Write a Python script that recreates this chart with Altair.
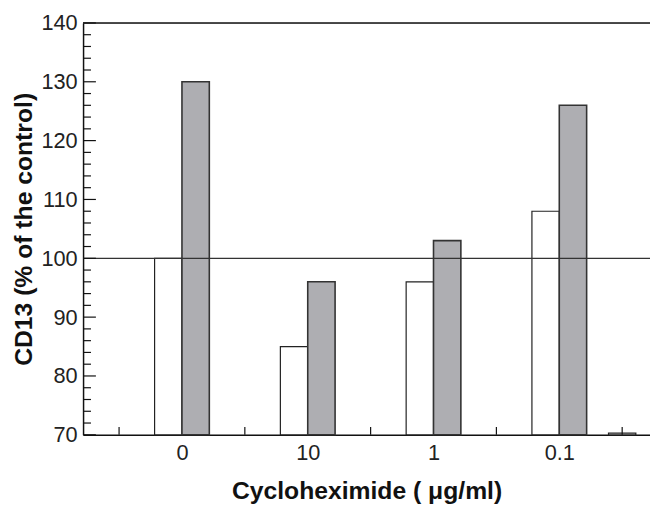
import json
import altair as alt
import pandas as pd

# ---- data ----
categories = ["0", "10", "1", "0.1"]
positions = [1, 2, 3, 4]
white_values = [100, 85, 96, 108]
gray_values = [130, 96, 103, 126]
stray_positions = [4.5]
stray_values = [70.3]

y_major = [70, 80, 90, 100, 110, 120, 130, 140]
y_minor = [v for v in range(72, 140, 2) if v % 10 != 0]
x_ticks = [0.5, 1.5, 2.5, 3.5, 4.5]
reference_level = [100]
top_level = [140]

W, H = 574, 417
FONT = "Liberation Sans"

bars = pd.DataFrame({"pos": positions, "white": white_values, "gray": gray_values})
stray = pd.DataFrame({"pos": stray_positions, "val": stray_values})
major = pd.DataFrame({"v": y_major})
minor = pd.DataFrame({"v": y_minor})
xt = pd.DataFrame({"t": x_ticks})
ref = pd.DataFrame({"r": reference_level})
top = pd.DataFrame({"r": top_level})

xs = alt.Scale(domain=[0.253, 4.682], nice=False, zero=False)
ys = alt.Scale(domain=[70, 140], nice=False, zero=False)

label_expr = json.dumps([""] + categories) + "[datum.value]"

x_axis = alt.Axis(
    values=positions, labelExpr=label_expr, ticks=False, grid=False,
    domain=True, domainColor="#111", domainWidth=1.5,
    labelFontSize=22, labelColor="#222", labelPadding=8, labelFont=FONT,
    title="Cycloheximide ( μg/ml)", titleFontSize=25, titleFontWeight="bold",
    titleFont=FONT, titleColor="#111", titlePadding=16,
)
y_axis = alt.Axis(
    values=y_major, ticks=False, grid=False,
    domain=True, domainColor="#111", domainWidth=1.5,
    labelFontSize=22, labelColor="#222", labelPadding=6, labelFont=FONT,
    title="CD13 (% of the control)", titleFontSize=25, titleFontWeight="bold",
    titleFont=FONT, titleColor="#111", titlePadding=5,
)

white = alt.Chart(bars).mark_bar(
    size=27.7, xOffset=-13.85, fill="white", stroke="#222", strokeWidth=1.2
).encode(
    x=alt.X("pos:Q", scale=xs, axis=x_axis),
    y=alt.Y("white:Q", scale=ys, axis=y_axis),
    y2=alt.datum(70),
)

gray = alt.Chart(bars).mark_bar(
    size=27.7, xOffset=13.85, fill="#aeaeb2", stroke="#333", strokeWidth=1.6
).encode(
    x=alt.X("pos:Q", scale=xs),
    y=alt.Y("gray:Q", scale=ys),
    y2=alt.datum(70),
)

stray_bar = alt.Chart(stray).mark_bar(
    size=27.7, fill="white", stroke="#222", strokeWidth=1.2
).encode(
    x=alt.X("pos:Q", scale=xs),
    y=alt.Y("val:Q", scale=ys),
    y2=alt.datum(70),
)

ref_line = alt.Chart(ref).mark_rule(color="#333", strokeWidth=1.3).encode(
    y=alt.Y("r:Q", scale=ys)
)
top_line = alt.Chart(top).mark_rule(color="#111", strokeWidth=1.5).encode(
    y=alt.Y("r:Q", scale=ys)
)

major_ticks = alt.Chart(major).mark_rule(color="#111", strokeWidth=1.2).encode(
    y=alt.Y("v:Q", scale=ys), x=alt.value(0), x2=alt.value(13)
)
minor_ticks = alt.Chart(minor).mark_rule(color="#111", strokeWidth=1.2).encode(
    y=alt.Y("v:Q", scale=ys), x=alt.value(0), x2=alt.value(8)
)
x_tick_marks = alt.Chart(xt).mark_rule(color="#111", strokeWidth=1.2).encode(
    x=alt.X("t:Q", scale=xs), y=alt.value(H), y2=alt.value(H - 8)
)

chart = alt.layer(
    white, gray, stray_bar, ref_line, top_line, major_ticks, minor_ticks, x_tick_marks
).properties(
    width=W, height=H,
    autosize=alt.AutoSizeParams(type="none"),
    padding={"left": 76, "top": 12, "right": 0, "bottom": 72},
).configure_view(stroke=None).configure(font=FONT, background="white")

chart.save("out.html", embed_options={"renderer": "svg", "actions": False})
